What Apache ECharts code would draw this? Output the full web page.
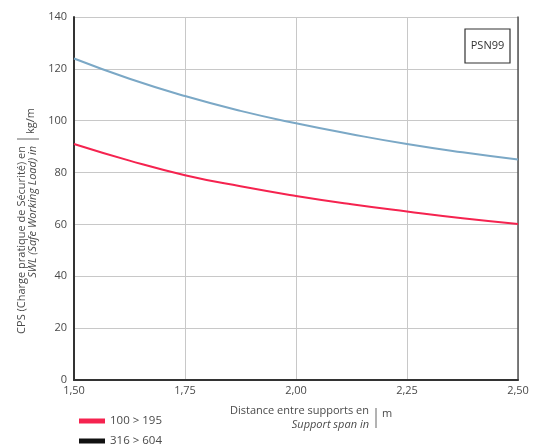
<!DOCTYPE html>
<html><head><meta charset="utf-8">
<script src="https://cdn.jsdelivr.net/npm/echarts@6/dist/echarts.min.js"></script>
<style>html,body{margin:0;padding:0;background:#fff}#c{width:536px;height:446px}</style>
</head><body><div id="c"></div>
<script>
const spans = [1.50, 1.625, 1.75, 1.875, 2.00, 2.125, 2.25, 2.375, 2.50];
const seriesA_name = '100 > 195';
const seriesA = [91, 84.6, 79, 74.7, 71, 67.8, 65, 62.4, 60.2];
const seriesB_name = '316 > 604';
const seriesB = [124, 116.2, 109.5, 103.8, 99, 94.8, 91, 87.8, 85];
const yTicks = [0, 20, 40, 60, 80, 100, 120, 140];
const xTicks = ['1,50', '1,75', '2,00', '2,25', '2,50'];

const font = "'Open Sans', 'Liberation Sans', sans-serif";
const txt = '#4a4a4a';
const chart = echarts.init(document.getElementById('c'), null, {renderer: 'canvas'});
const legendCommon = {orient: 'horizontal', left: 74, itemWidth: 26, itemHeight: 5, icon: 'rect',
  textStyle: {color: txt, fontSize: 11.5, fontFamily: font}};
chart.setOption({
  animation: false,
  textStyle: {fontFamily: font},
  grid: {left: 74, right: 18, top: 17, bottom: 66, containLabel: false},
  xAxis: {
    type: 'value', min: 1.5, max: 2.5, interval: 0.25,
    axisLine: {show: true, lineStyle: {color: '#333', width: 2}},
    axisTick: {show: false},
    axisLabel: {margin: 5, color: txt, fontSize: 11, fontFamily: font,
      formatter: v => xTicks[Math.round((v - 1.5) / 0.25)]},
    splitLine: {show: true, lineStyle: {color: '#c8c8c8', width: 1}}
  },
  yAxis: [{
    type: 'value', min: 0, max: 140, interval: 20,
    axisLine: {show: true, lineStyle: {color: '#333', width: 2}},
    axisTick: {show: false},
    axisLabel: {margin: 7, color: txt, fontSize: 11, fontFamily: font,
      formatter: v => String(yTicks[Math.round(v / 20)])},
    splitLine: {show: true, lineStyle: {color: '#c8c8c8', width: 1}}
  }, {
    type: 'value', min: 0, max: 140, interval: 20, position: 'right',
    axisLine: {show: true, lineStyle: {color: '#555', width: 1.5}},
    axisTick: {show: false}, axisLabel: {show: false}, splitLine: {show: false}
  }],
  legend: [
    Object.assign({top: 410, data: [{name: seriesA_name, itemStyle: {color: '#f5234f'}}]}, legendCommon),
    Object.assign({top: 430, data: [{name: seriesB_name, itemStyle: {color: '#111'}}]}, legendCommon)
  ],
  series: [
    {name: seriesA_name, type: 'line', smooth: true, symbol: 'none',
     data: spans.map((x, i) => [x, seriesA[i]]),
     lineStyle: {color: '#f5234f', width: 2}, itemStyle: {color: '#f5234f'}},
    {name: seriesB_name, type: 'line', smooth: true, symbol: 'none',
     data: spans.map((x, i) => [x, seriesB[i]]),
     lineStyle: {color: '#7ba8c6', width: 2}, itemStyle: {color: '#7ba8c6'}}
  ],
  graphic: [
    {type: 'rect', shape: {x: 465, y: 29, width: 45, height: 34},
     style: {fill: '#fff', stroke: '#333', lineWidth: 1.2}},
    {type: 'text', x: 487.5, y: 46, style: {text: 'PSN99', fill: '#333', font: "11px " + font,
     textAlign: 'center', textVerticalAlign: 'middle'}},
    // y-axis title
    {type: 'text', x: 22, y: 146, rotation: Math.PI / 2,
     style: {text: 'CPS (Charge pratique de Sécurité) en', fill: txt, font: "11px " + font,
       textAlign: 'right', textVerticalAlign: 'middle'}},
    {type: 'text', x: 33, y: 146, rotation: Math.PI / 2,
     style: {text: 'SWL (Safe Working Load) in', fill: txt, font: "italic 11px " + font,
       textAlign: 'right', textVerticalAlign: 'middle'}},
    {type: 'line', shape: {x1: 17, y1: 139, x2: 39, y2: 139}, style: {stroke: '#666', lineWidth: 1}},
    {type: 'text', x: 31, y: 134, rotation: Math.PI / 2,
     style: {text: 'kg/m', fill: txt, font: "11px " + font,
       textAlign: 'left', textVerticalAlign: 'middle'}},
    // x-axis title
    {type: 'text', x: 369, y: 411,
     style: {text: 'Distance entre supports en', fill: txt, font: "11px " + font,
       textAlign: 'right', textVerticalAlign: 'middle'}},
    {type: 'text', x: 369, y: 425,
     style: {text: 'Support span in', fill: txt, font: "italic 11px " + font,
       textAlign: 'right', textVerticalAlign: 'middle'}},
    {type: 'line', shape: {x1: 376, y1: 408, x2: 376, y2: 428}, style: {stroke: '#666', lineWidth: 1}},
    {type: 'text', x: 382, y: 414,
     style: {text: 'm', fill: txt, font: "11px " + font,
       textAlign: 'left', textVerticalAlign: 'middle'}}
  ]
});
</script></body></html>
